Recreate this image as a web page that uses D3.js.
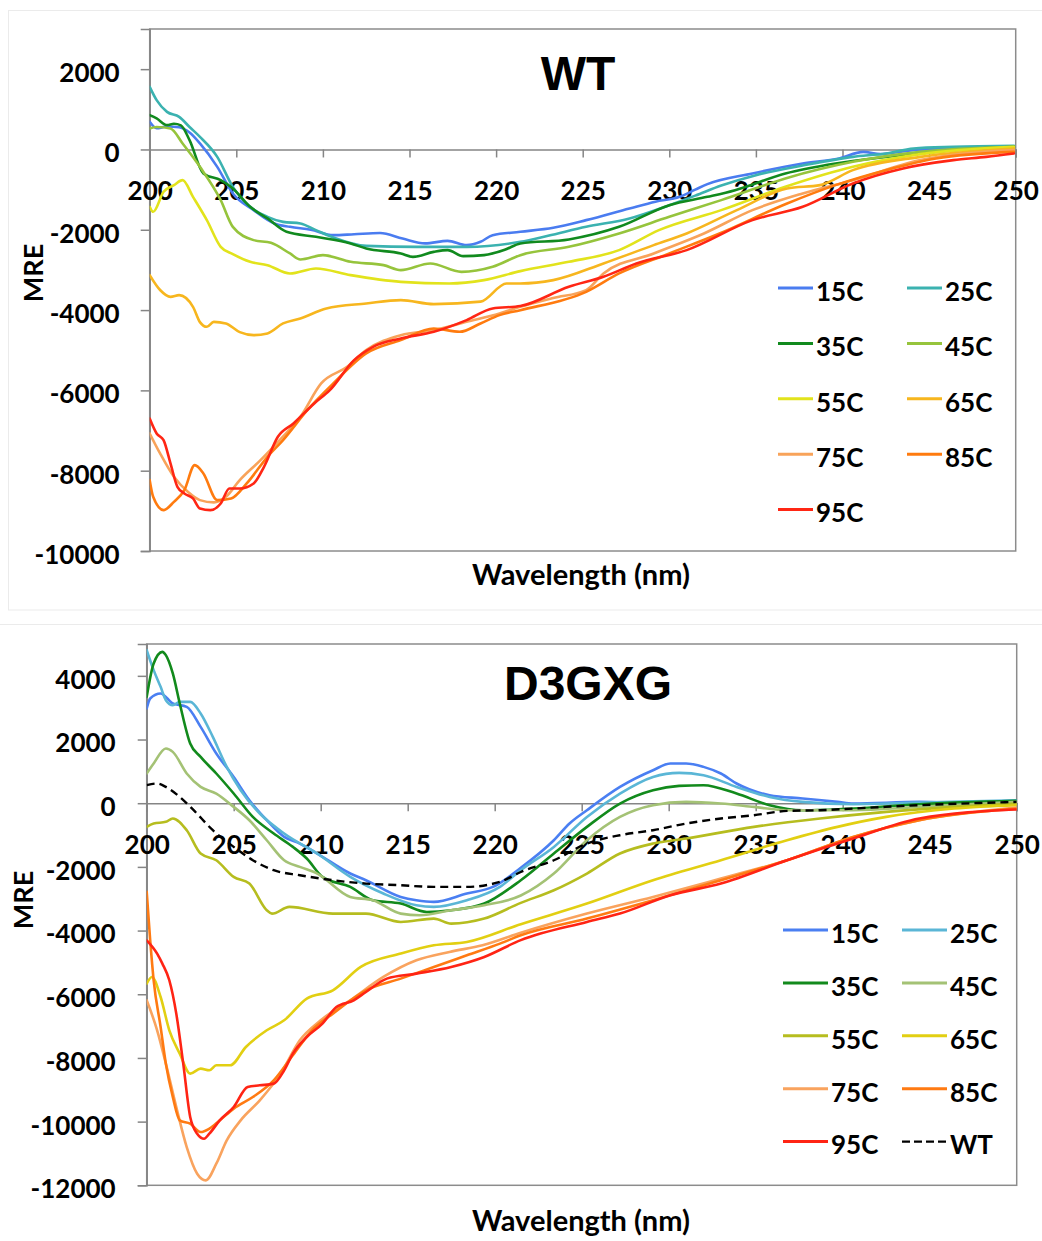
<!DOCTYPE html>
<html>
<head>
<meta charset="utf-8">
<script src="https://cdn.jsdelivr.net/npm/d3@7"></script>
<style>
  body { margin: 0; background: #ffffff; }
  svg { display: block; }
  .lbl { font-family: Lato, "Open Sans", sans-serif; font-weight: 700; fill: #000; }
  .ttl { font-family: "Liberation Sans", Arial, sans-serif; font-weight: 700; fill: #000; }
</style>
</head>
<body>
<svg id="chart" width="1042" height="1241"></svg>
<script>
// ---- shared labels and ticks ----
const wavelengthTicks = [200, 205, 210, 215, 220, 225, 230, 235, 240, 245, 250];
const wtMreTicks = [-10000, -8000, -6000, -4000, -2000, 0, 2000];
const mutMreTicks = [-12000, -10000, -8000, -6000, -4000, -2000, 0, 2000, 4000];
const temperatures = ["15C", "25C", "35C", "45C", "55C", "65C", "75C", "85C", "95C"];
const wtColors = ["#4a7cf0", "#3bb2b0", "#118a1e", "#96c43c", "#e2e31c", "#f7b61e", "#f8a35a", "#ff7b0f", "#ff2614"];
const mutColors = ["#4a7ff2", "#5ab6d6", "#128a1c", "#a4c275", "#b6bd1f", "#e2cf12", "#f9a35e", "#ff7a12", "#ff2414"];

// ---- WT spectra: [wavelength nm, MRE] ----
const wt15 = [[200,690],[200.4,530],[201,570],[201.7,555],[202.3,420],[202.9,150],[203.9,-433],[204.8,-1096],[206,-1511],[207.2,-1843],[208.1,-1927],[209.3,-2000],[210.6,-2134],[211.8,-2110],[213.3,-2080],[214.6,-2220],[215.9,-2340],[217.2,-2276],[218.3,-2383],[219.1,-2300],[219.8,-2134],[221.4,-2051],[223.3,-1950],[225.2,-1760],[227.7,-1469],[229.2,-1300],[230.6,-1180],[231.5,-1000],[232.2,-864],[234.8,-598],[237.7,-349],[239.8,-224],[241.2,-60],[242.2,-117],[243.3,-60],[244.5,0],[247,30],[249.9,65]];
const wt25 = [[200,1559],[200.4,1228],[201,936],[201.7,812],[202.3,560],[202.9,314],[203.9,-184],[204.8,-931],[205.8,-1429],[206.8,-1678],[207.7,-1803],[208.7,-1843],[209.6,-2009],[210.6,-2191],[212.5,-2400],[215.4,-2425],[218.3,-2425],[221.4,-2300],[223,-2150],[225.2,-1927],[227.7,-1718],[230,-1387],[231.5,-1150],[233,-900],[235,-640],[237.7,-400],[240.6,-184],[242.5,-100],[244.1,25],[246.4,65],[249.9,90]];
const wt35 = [[200,854],[200.4,772],[201,605],[201.4,640],[201.8,600],[202.3,232],[203.1,-598],[204.1,-764],[204.8,-971],[205.8,-1429],[206.8,-1718],[207.9,-2051],[209.6,-2176],[211.6,-2341],[212.5,-2466],[214.5,-2590],[215.2,-2674],[216.4,-2550],[217.2,-2507],[218.1,-2657],[219.3,-2632],[220.5,-2500],[221.4,-2340],[224.2,-2241],[227.1,-1927],[230,-1387],[232.2,-1180],[233.8,-1013],[236.7,-598],[239.6,-349],[242.5,-184],[246.4,-17],[249.9,65]];
const wt45 = [[200,523],[200.4,560],[201.2,523],[201.9,149],[202.9,-433],[204.1,-1262],[204.8,-1927],[206,-2258],[207,-2325],[208.1,-2590],[208.7,-2739],[210,-2632],[211.6,-2798],[213.5,-2881],[214.5,-3005],[216.2,-2839],[218,-3048],[219.8,-2923],[221.4,-2632],[224.2,-2425],[227.1,-2092],[230,-1678],[233,-1262],[236.7,-722],[240.6,-308],[244.5,-60],[249.9,65]];
const wt55 = [[200,-1429],[200.2,-1553],[200.8,-1055],[201.4,-888],[201.9,-764],[202.5,-1180],[203.3,-1760],[204.1,-2425],[204.8,-2607],[205.8,-2798],[206.8,-2881],[208.1,-3088],[209.6,-2963],[211.6,-3130],[214.5,-3297],[217.3,-3337],[219.3,-3254],[221.4,-3030],[224.2,-2798],[227.1,-2507],[229.4,-2009],[233,-1511],[236.7,-931],[240.6,-433],[244.5,-117],[249.9,65]];
const wt65 = [[200,-3130],[200.6,-3500],[201.2,-3670],[201.7,-3628],[202.5,-3919],[202.9,-4300],[203.3,-4417],[203.7,-4293],[204.4,-4333],[205.2,-4550],[206,-4624],[206.8,-4582],[207.7,-4333],[208.7,-4208],[210.2,-3959],[212.5,-3835],[214.5,-3752],[216.4,-3852],[219.1,-3790],[220.6,-3337],[221.4,-3337],[223.3,-3254],[226.2,-2839],[229.1,-2383],[231,-2092],[233.9,-1511],[236.8,-971],[238.7,-888],[240.6,-515],[244.5,-184],[249.9,25]];
const wt75 = [[200,-7072],[200.6,-7570],[201.4,-8152],[202.2,-8526],[202.9,-8733],[203.7,-8790],[204.4,-8650],[205.2,-8235],[206.4,-7737],[207.5,-7238],[208.7,-6658],[209.9,-5827],[211.4,-5413],[212.5,-4997],[214.5,-4624],[216.4,-4500],[218.3,-4293],[220.2,-4084],[221.4,-3919],[223.3,-3700],[225.2,-3503],[226.2,-3088],[229.1,-2590],[232,-2092],[234.8,-1511],[237.7,-1096],[240.6,-764],[244.5,-266],[249.9,-17]];
const wt85 = [[200,-8235],[200.2,-8650],[200.8,-8982],[201.4,-8775],[202,-8484],[202.6,-7861],[203.1,-8068],[203.9,-8733],[204.7,-8692],[205.6,-8318],[206.8,-7654],[207.7,-7238],[209.1,-6492],[210.6,-5827],[212.5,-5080],[214.5,-4748],[216.4,-4458],[217.9,-4541],[219.1,-4333],[220.2,-4126],[221.4,-4002],[225.2,-3545],[227.1,-3088],[230,-2590],[232.9,-2092],[236.8,-1345],[239.6,-888],[242.5,-515],[245.4,-224],[249.9,-60]];
const wt95 = [[200,-6700],[200.4,-7072],[200.8,-7238],[201.2,-7819],[201.6,-8401],[202,-8567],[202.5,-8692],[202.9,-8941],[203.5,-8982],[204.1,-8816],[204.6,-8443],[205.2,-8443],[206,-8318],[206.6,-7903],[207.4,-7155],[208.3,-6823],[209.5,-6325],[210.4,-5993],[211.8,-5246],[212.9,-4914],[214.5,-4706],[216.4,-4541],[218.3,-4250],[219.8,-3959],[221.4,-3900],[224.2,-3420],[226.2,-3171],[228.1,-2839],[231,-2507],[234.8,-1760],[237.7,-1429],[240.6,-847],[243.5,-473],[246.4,-266],[248.3,-184],[249.9,-100]];

// ---- D3GXG spectra: [wavelength nm, MRE] ----
const mut15 = [[200,2975],[200.2,3290],[200.8,3447],[201.5,3133],[202.3,3027],[203.1,2397],[204,1562],[205,826],[205.9,94],[206.9,-534],[207.9,-1058],[208.8,-1267],[209.8,-1580],[211.7,-2209],[212.6,-2419],[214.6,-2944],[215.5,-3048],[216.5,-3100],[218.4,-2837],[219.9,-2629],[221.5,-2030],[223.4,-1163],[224.3,-638],[225.3,-220],[227.2,512],[229.1,1037],[230.1,1247],[231,1247],[232,1141],[233,933],[233.9,619],[235.8,251],[237.7,148],[239.7,41],[240.6,-10],[244.4,41],[246.4,10],[250,94]];
const mut25 = [[200,4807],[200.4,4179],[200.8,3654],[201.1,3236],[201.5,3079],[201.9,3183],[202.5,3183],[203.1,2818],[203.8,2083],[204.6,1141],[205.4,408],[206.5,-324],[207.9,-952],[209.8,-1580],[211.7,-2315],[213.6,-2837],[215.5,-3205],[216.5,-3257],[218.4,-3048],[220.3,-2629],[221.5,-2104],[223.4,-1372],[225.3,-430],[227.2,304],[229.1,826],[230.6,952],[232,880],[233.9,512],[235.8,198],[237.7,41],[240.6,-31],[245,30],[250,94]];
const mut35 = [[200,3340],[200.4,4389],[200.9,4754],[201.1,4650],[201.5,4075],[201.9,3133],[202.5,1876],[203.1,1455],[204,933],[205,304],[206.1,-430],[207.3,-952],[208.4,-1372],[209.2,-1738],[210.1,-2315],[211.7,-2629],[213,-3048],[214.6,-3152],[216.1,-3415],[217.5,-3362],[219.4,-3152],[221.5,-2420],[223.4,-1580],[225.3,-743],[227.2,-10],[229.1,408],[230.6,545],[232,566],[233.9,304],[235.8,-63],[237.7,-220],[240.6,-168],[244.4,-31],[250,73]];
const mut45 = [[200,933],[200.4,1247],[201.1,1718],[201.5,1612],[202.3,933],[203.1,512],[204,304],[205,-115],[205.9,-534],[206.9,-1163],[207.9,-1791],[208.8,-2000],[209.8,-2209],[211.7,-2944],[213,-3048],[214.6,-3467],[215.7,-3519],[217.5,-3362],[219.4,-3205],[221.5,-2900],[223.4,-2209],[225.3,-1163],[227.2,-430],[229.1,-63],[231,41],[233,-10],[234.9,-115],[236.8,-220],[240.6,-220],[244.4,-115],[250,41]];
const mut55 = [[200,-743],[200.4,-638],[201.1,-586],[201.5,-481],[202.3,-848],[203.1,-1580],[204,-1791],[205,-2315],[205.9,-2524],[206.9,-3362],[207.2,-3467],[208.2,-3257],[210.7,-3467],[212.6,-3467],[214.6,-3729],[216.5,-3624],[217.5,-3781],[219.4,-3624],[221.5,-3130],[223.4,-2734],[225.3,-2209],[227.2,-1580],[229.1,-1267],[231,-1110],[234.9,-743],[238.7,-481],[242.5,-272],[246.4,-115],[250,-10]];
const mut65 = [[200,-5666],[200.3,-5457],[200.8,-6086],[201.3,-7132],[201.9,-7865],[202.5,-8493],[203.1,-8336],[203.6,-8389],[204,-8232],[204.8,-8232],[205.7,-7656],[206.9,-7132],[207.9,-6818],[209.2,-6137],[210.7,-5876],[212.3,-5143],[214.6,-4723],[216.5,-4462],[218.4,-4358],[221.5,-3800],[225.3,-3152],[229.1,-2419],[233,-1791],[236.8,-1163],[239.7,-743],[242.5,-430],[246.4,-168],[250,-63]];
const mut75 = [[200,-6190],[200.6,-7132],[201.1,-8179],[201.7,-9542],[202.3,-10799],[202.9,-11635],[203.4,-11845],[204,-11321],[204.6,-10589],[205.4,-9960],[206.5,-9332],[207.7,-8493],[208.8,-7447],[210,-6818],[211.7,-6190],[213.6,-5457],[215.5,-4933],[217.4,-4671],[219.3,-4462],[221.5,-4070],[225.3,-3467],[229.1,-2944],[233,-2366],[236.8,-1791],[240.6,-1058],[244.4,-534],[250,-136]];
const mut85 = [[200,-2786],[200.2,-4300],[200.4,-5561],[200.8,-7028],[201.1,-8179],[201.5,-9228],[201.9,-9960],[202.5,-10065],[203.1,-10328],[203.6,-10222],[204.2,-9960],[205,-9593],[206.1,-9228],[207.3,-8703],[208.4,-7918],[209.5,-7132],[210.7,-6608],[212.6,-5876],[214.6,-5509],[216.5,-5143],[218.4,-4776],[220.3,-4409],[221.5,-4147],[225.3,-3624],[229.1,-3048],[233,-2419],[236.8,-1791],[240.6,-1058],[244.4,-534],[250,-168]];
const mut95 = [[200,-4305],[200.6,-4723],[200.9,-5037],[201.3,-5561],[201.7,-6608],[202.1,-8179],[202.5,-9856],[202.9,-10380],[203.3,-10537],[203.6,-10380],[204.2,-9960],[205,-9542],[205.8,-8913],[206.5,-8860],[207.3,-8807],[207.9,-8389],[208.4,-7865],[209.2,-7342],[210.1,-6922],[210.9,-6400],[211.9,-6190],[212.6,-5929],[213.8,-5509],[215.5,-5352],[217.5,-5143],[219.4,-4829],[221.5,-4300],[225.3,-3729],[227.2,-3467],[230.1,-2891],[233,-2524],[236.8,-1791],[240.6,-1110],[244.4,-480],[250,-199]];
// WT reference spectrum overlaid on the mutant panel
const wtReference = [[200,566],[200.6,619],[201.1,512],[201.9,198],[202.7,-220],[203.8,-848],[205,-1372],[206.1,-1791],[207.3,-2105],[208.8,-2262],[210.7,-2419],[212.6,-2524],[214.6,-2576],[216.5,-2629],[218.4,-2629],[220.3,-2472],[221.5,-2160],[223.4,-1791],[225.3,-1267],[227.2,-1005],[229.1,-848],[231,-638],[233,-481],[234.9,-377],[236.8,-241],[238.7,-220],[240.6,-168],[244.4,-63],[250,41]];

const wtSeries = [wt15, wt25, wt35, wt45, wt55, wt65, wt75, wt85, wt95];
const mutSeries = [mut15, mut25, mut35, mut45, mut55, mut65, mut75, mut85, mut95];

const svg = d3.select("#chart");

// light frames around each figure panel
svg.append("rect").attr("x", 8.5).attr("y", 10.5).attr("width", 1040).attr("height", 599.5)
  .attr("fill", "none").attr("stroke", "#ebebeb").attr("stroke-width", 1);
svg.append("line").attr("x1", 0).attr("x2", 1042).attr("y1", 624.5).attr("y2", 624.5)
  .attr("stroke", "#ebebeb").attr("stroke-width", 1);

function drawPanel(p) {
  const x = d3.scaleLinear().domain([200, 250]).range([p.left, p.right]);
  const y = d3.scaleLinear().domain(p.yDomain).range([p.bottom, p.top]);
  const g = svg.append("g");
  const axisColor = "#858585";

  // plot area border
  g.append("rect")
    .attr("x", p.left).attr("y", p.top)
    .attr("width", p.right - p.left).attr("height", p.bottom - p.top)
    .attr("fill", "none").attr("stroke", "#8c8c8c").attr("stroke-width", 1.5);

  // y axis
  const yAxis = g.append("g").attr("transform", `translate(${p.left},0)`)
    .call(d3.axisLeft(y).tickValues(p.yTicks).tickSize(9).tickFormat(d => String(d)));
  yAxis.select(".domain").attr("stroke", axisColor).attr("stroke-width", 1.5);
  yAxis.selectAll(".tick line").attr("stroke", axisColor).attr("stroke-width", 1.5);
  yAxis.selectAll(".tick text").attr("class", "lbl").attr("font-size", 26)
    .attr("x", p.yLabelDx).attr("dy", null).attr("y", 12.4);

  // x axis along MRE = 0
  const xAxis = g.append("g").attr("transform", `translate(0,${y(0)})`)
    .call(d3.axisBottom(x).tickValues(wavelengthTicks).tickSize(8).tickFormat(d => String(d)));
  xAxis.select(".domain").attr("stroke", axisColor).attr("stroke-width", 1.5);
  xAxis.selectAll(".tick line").attr("stroke", axisColor).attr("stroke-width", 1.5);
  xAxis.selectAll(".tick text").attr("class", "lbl").attr("font-size", 26)
    .attr("dy", null).attr("y", 50.5);

  // spectra
  const line = d3.line().x(d => x(d[0])).y(d => y(d[1])).curve(d3.curveMonotoneX);
  const clipId = "clip-" + p.id;
  g.append("clipPath").attr("id", clipId).append("rect")
    .attr("x", p.left).attr("y", p.top).attr("width", p.right - p.left).attr("height", p.bottom - p.top);
  const lines = g.append("g").attr("clip-path", `url(#${clipId})`);
  p.series.forEach((s, i) => {
    lines.append("path").datum(s)
      .attr("d", line).attr("fill", "none")
      .attr("stroke", p.colors[i]).attr("stroke-width", 2.6)
      .attr("stroke-linejoin", "round").attr("stroke-linecap", "round");
  });
  if (p.reference) {
    lines.append("path").datum(p.reference)
      .attr("d", line).attr("fill", "none")
      .attr("stroke", "#000").attr("stroke-width", 2.4).attr("stroke-dasharray", "8,5");
  }

  // panel title
  g.append("text").attr("class", "ttl").attr("font-size", 48)
    .attr("x", p.titleX).attr("y", p.titleBase).attr("text-anchor", "middle").text(p.title);

  // axis titles
  g.append("text").attr("class", "lbl").attr("font-size", 29)
    .attr("x", 581).attr("y", p.xTitleBase).attr("text-anchor", "middle").text("Wavelength (nm)");
  g.append("text").attr("class", "lbl").attr("font-size", 27)
    .attr("transform", `translate(${p.mreX},${p.mreY}) rotate(-90)`)
    .attr("text-anchor", "middle").text("MRE");

  // legend: two columns
  const entries = temperatures.map((t, i) => ({ label: t, color: p.colors[i], dash: null }));
  if (p.reference) entries.push({ label: "WT", color: "#000", dash: "8,4" });
  entries.forEach((e, i) => {
    const col = i % 2, row = Math.floor(i / 2);
    const lx = p.legend.x1 + col * p.legend.colDx;
    const ly = p.legend.y0 + row * p.legend.rowDy;
    g.append("line").attr("x1", lx).attr("x2", lx + p.legend.len).attr("y1", ly).attr("y2", ly)
      .attr("stroke", e.color).attr("stroke-width", e.dash ? 2.4 : 3)
      .attr("stroke-dasharray", e.dash);
    g.append("text").attr("class", "lbl").attr("font-size", 26)
      .attr("x", lx + p.legend.len + 3).attr("y", ly + 12.8).text(e.label);
  });
}

drawPanel({
  id: "wt", left: 149.7, right: 1015.7, top: 29, bottom: 551,
  yDomain: [-10000, 3000], yTicks: wtMreTicks, yLabelDx: -30,
  series: wtSeries, colors: wtColors, reference: null,
  title: "WT", titleX: 578, titleBase: 90,
  xTitleBase: 584.5, mreX: 43, mreY: 273,
  legend: { x1: 778, len: 35, colDx: 129, y0: 288, rowDy: 55.4 }
});

drawPanel({
  id: "mut", left: 146.7, right: 1016.7, top: 644, bottom: 1185.3,
  yDomain: [-12000, 5000], yTicks: mutMreTicks, yLabelDx: -31,
  series: mutSeries, colors: mutColors, reference: wtReference,
  title: "D3GXG", titleX: 588, titleBase: 700,
  xTitleBase: 1231, mreX: 33, mreY: 900,
  legend: { x1: 783, len: 45, colDx: 119, y0: 930, rowDy: 52.9 }
});
</script>
</body>
</html>
